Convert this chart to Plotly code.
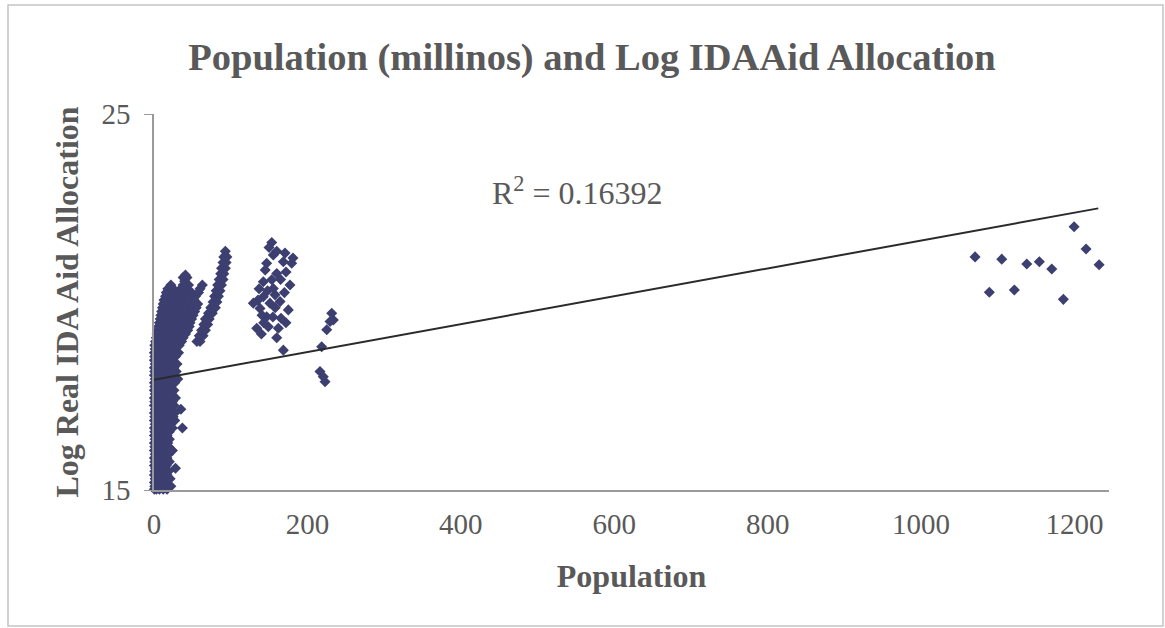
import plotly.graph_objects as go

# ---------------- data ----------------
# dense cluster near zero population: one aid value per row, populations in that row
blob_aid_rows = [15.02, 15.10, 15.20, 15.30, 15.40, 15.50, 15.58, 15.65, 15.75, 15.85,
                 15.95, 16.05, 16.15, 16.25, 16.35, 16.45, 16.55, 16.65, 16.75, 16.85,
                 16.95, 17.05, 17.15, 17.25, 17.35, 17.45, 17.55, 17.65, 17.75, 17.85,
                 17.95, 18.05, 18.15, 18.25, 18.35, 18.45, 18.55, 18.65, 18.75, 18.85,
                 18.95, 19.05, 19.15, 19.25, 19.35, 19.45, 19.55, 19.65, 19.75, 19.85,
                 19.95, 20.05, 20.15, 20.25, 20.35, 20.45, 20.55, 20.65, 20.72]
blob_pop_rows = [
    [0.5, 3, 7, 12, 17], [1, 5, 9, 14, 22], [0.5, 3, 7, 11, 16], [1.5, 5, 9, 13, 21],
    [0.5, 3, 7, 12, 17], [1, 5, 9, 14, 19], [2, 28], [0.5, 3, 7, 11, 16], [1, 5, 9, 15, 20],
    [0.5, 3, 7, 12, 17],
    [1.5, 5, 9, 14, 19], [0.5, 3, 7, 11, 24], [1, 5, 9, 15, 19], [0.5, 3, 7, 12, 18],
    [1.5, 5, 9, 14, 20], [0.5, 3, 7, 11, 17], [1, 5, 9, 15, 20], [0.5, 3, 7, 12, 18, 24, 37],
    [1.5, 5, 9, 14, 22], [0.5, 3, 7, 11, 18, 27], [1, 5, 9, 15, 25], [0.5, 3, 7, 12, 20, 27],
    [1.5, 5, 9, 14, 22, 35], [0.5, 3, 7, 11, 18, 26], [1, 5, 9, 15, 24], [0.5, 3, 7, 12, 19, 28],
    [1.5, 5, 9, 14, 22], [0.5, 3, 7, 11, 17, 26], [1, 5, 9, 15, 21], [0.5, 3, 7, 12, 18, 27],
    [1.5, 5, 9, 14, 22, 31], [0.5, 3, 7, 11, 17, 25], [1, 5, 9, 15, 21, 29],
    [0.5, 3, 7, 12, 18, 26], [1.5, 5, 9, 14, 22, 30], [0.5, 3, 7, 11, 17, 24],
    [1, 5, 9, 15, 21, 28], [0.5, 3, 7, 12, 18, 25, 32], [1.5, 5, 9, 14, 20, 27],
    [1, 4, 8, 13, 19, 26, 33], [2, 5, 9, 15, 21, 29, 36], [3, 6, 11, 17, 23, 30, 38],
    [4, 8, 13, 19, 26, 33, 41], [5, 9, 14, 21, 28, 36, 44], [6, 10, 16, 23, 30, 38, 46],
    [7, 12, 18, 25, 32, 40, 47], [8, 13, 20, 27, 34, 42, 49], [9, 15, 22, 29, 36, 44, 51],
    [10, 16, 23, 31, 38, 46, 53], [11, 17, 25, 33, 40, 48, 55], [12, 19, 27, 35, 42, 50, 57],
    [13, 20, 29, 37, 44, 52], [15, 22, 31, 39, 46, 54], [16, 24, 33, 41, 49, 58],
    [18, 25, 35, 43, 60], [22, 38, 45, 63], [40], [38, 43], [41],
]

# rising arm just right of the dense cluster
arm_pop = [56, 60, 59, 64, 62, 67, 65, 70, 67, 72, 71, 76, 74, 80, 77, 82, 79, 84,
           81, 86, 83, 88, 85, 90, 87, 91, 88, 93, 90, 94, 91, 95, 93]
arm_aid = [18.95, 18.95, 19.10, 19.10, 19.25, 19.25, 19.40, 19.40, 19.55, 19.55,
           19.70, 19.70, 19.85, 19.85, 20.00, 20.00, 20.15, 20.15, 20.30, 20.30,
           20.45, 20.45, 20.60, 20.60, 20.75, 20.75, 20.90, 20.90, 21.05, 21.05,
           21.20, 21.20, 21.35]

# group around 130-235 million
mid_pop = [153.5, 155.5, 146.9, 170.8, 179.5, 168.6, 160.0, 142.5, 153.5, 177.3,
           155.5, 129.5, 142.5, 138.2, 151.2, 164.3, 175.1, 146.9, 133.9, 149.0,
           162.1, 168.6, 231.7, 229.5, 233.8, 225.2, 218.6, 216.4, 220.7, 223.0,
           135.6, 157.8, 172.1, 140.8, 165.6, 181.2,
           150.0, 160.0, 145.0, 165.0, 137.0, 148.0, 170.0, 158.0, 143.0, 155.0,
           172.0, 140.0, 160.0]
mid_aid = [21.58, 21.25, 21.03, 21.30, 21.03, 21.07, 20.76, 20.54, 20.59, 20.45,
           20.36, 19.97, 20.14, 19.83, 19.97, 20.01, 19.79, 19.61, 19.30, 19.34,
           19.30, 18.72, 19.70, 19.48, 19.52, 19.26, 18.81, 18.15, 18.01, 17.88,
           20.05, 20.19, 20.80, 19.65, 19.57, 21.17,
           21.45, 21.35, 20.85, 20.60, 20.35, 20.30, 20.25, 19.85, 19.45, 19.60,
           19.45, 19.15, 19.05]

# the two very large countries (over one billion)
big_pop = [1070.4, 1105.2, 1137.8, 1154.2, 1170.4, 1089.0, 1121.6, 1185.5, 1199.5, 1215.1, 1232.1]
big_aid = [21.20, 21.14, 21.01, 21.07, 20.88, 20.26, 20.32, 20.07, 22.00, 21.41, 20.99]

# linear trend line endpoints
trend_pop = [0, 1231]
trend_aid = [17.93, 22.49]
r2_text = "R<sup>2</sup> = 0.16392"

x_ticks = [0, 200, 400, 600, 800, 1000, 1200]
y_ticks = [15, 25]

# ---------------- build ----------------
pop_all, aid_all = [], []
for a, row in zip(blob_aid_rows, blob_pop_rows):
    for p in row:
        pop_all.append(p)
        aid_all.append(a)
pop_all += arm_pop + mid_pop + big_pop
aid_all += arm_aid + mid_aid + big_aid

MARK = "#3c3f70"
TXT = "#595959"
FONT = "Liberation Serif"

fig = go.Figure()
fig.add_trace(go.Scatter(
    x=pop_all, y=aid_all, mode="markers", cliponaxis=False,
    marker=dict(symbol="diamond", size=8.5, color=MARK, line=dict(width=0)),
    showlegend=False, hoverinfo="x+y"))
fig.add_trace(go.Scatter(
    x=trend_pop, y=trend_aid, mode="lines",
    line=dict(color="#2a2a2a", width=2), showlegend=False))

fig.add_annotation(x=552, y=22.95, xref="x", yref="y", text=r2_text, showarrow=False,
                   font=dict(family=FONT, size=32, color=TXT))

fig.update_layout(
    width=1165, height=628,
    margin=dict(l=154, r=56, t=114, b=138),
    paper_bgcolor="white", plot_bgcolor="white",
    font=dict(family=FONT, color=TXT),
    title=dict(text="<b>Population (millinos) and Log IDAAid Allocation</b>",
               x=592 / 1165, xref="container", xanchor="center",
               y=1 - 57 / 628, yref="container", yanchor="middle",
               font=dict(family=FONT, size=38.5, color=TXT)),
    xaxis=dict(range=[0, 1245], tickvals=x_ticks, showgrid=False, zeroline=False,
               showline=True, linecolor="#9a9a9a", linewidth=1.5, ticks="",
               automargin=False,
               tickfont=dict(family=FONT, size=29, color=TXT), ticklabelstandoff=7,
               title=dict(text="<b>Population</b>", standoff=26,
                          font=dict(family=FONT, size=32, color=TXT))),
    yaxis=dict(range=[15, 25], tickvals=y_ticks, showgrid=True, gridcolor="#a8a8a8",
               gridwidth=1.5, zeroline=False, showline=True, linecolor="#9a9a9a",
               linewidth=1.5, ticks="outside", ticklen=8, tickcolor="#9a9a9a",
               automargin=False,
               tickfont=dict(family=FONT, size=29, color=TXT), ticklabelstandoff=8,
               title=dict(text="<b>Log Real IDA Aid Allocation</b>", standoff=13,
                          font=dict(family=FONT, size=32, color=TXT))),
    shapes=[dict(type="rect", xref="paper", yref="paper",
                 x0=(8 - 154) / 955, x1=(1163 - 154) / 955,
                 y0=(490 - 626) / 376, y1=(490 - 5) / 376,
                 line=dict(color="#c4c4c4", width=1.5), fillcolor="rgba(0,0,0,0)", layer="below")],
)

fig.write_html("out.html", config={"displayModeBar": False},
               post_script="document.body.style.margin='0';")
